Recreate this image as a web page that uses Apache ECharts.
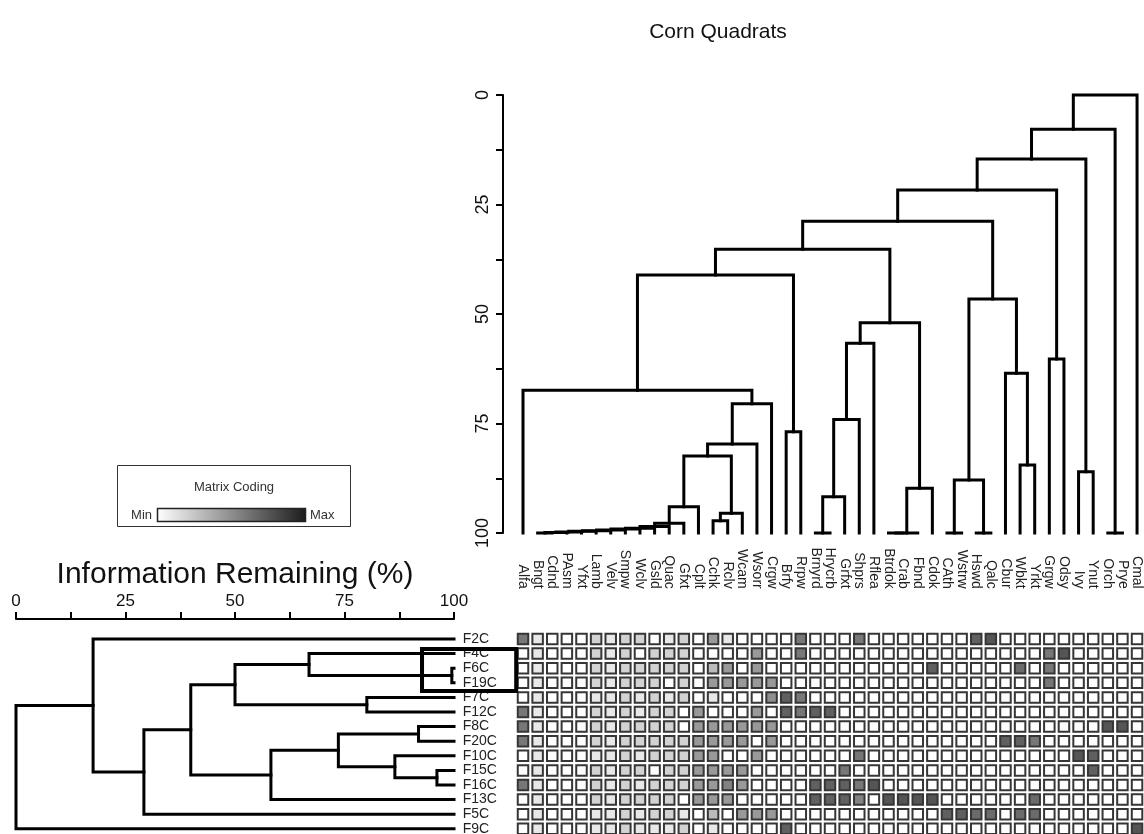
<!DOCTYPE html>
<html>
<head>
<meta charset="utf-8">
<script src="https://cdn.jsdelivr.net/npm/echarts@6/dist/echarts.min.js"></script>
<style>
  html, body { margin: 0; padding: 0; background: #ffffff; }
  #chart { width: 1144px; height: 834px; }
</style>
</head>
<body>
<div id="chart"></div>
<script>
// Species (columns), in dendrogram leaf order
const species = ['Alfa','Bngt','Cdnd','PAsm','Yfxt','Lamb','Velv','Smpw','Wclv','Gsld','Quac','Gfxt',
  'Cplt','Cchk','Rclv','Wcam','Wsorr','Crgw','Brfy','Rrpw','Brnyrd','Hrycrb','Grfxt','Shprs','Rflea',
  'Btrdok','Crab','Fbnd','Cdok','CAth','Wstrw','Hswd','Qalc','Cbur','Wbkt','Yrkt','Grgw','Odsy','Ivy',
  'Ynut','Orch','Prye','Cmal'];

// Quadrats (rows), in dendrogram leaf order
const plots = ['F2C','F4C','F6C','F19C','F7C','F12C','F8C','F20C','F10C','F15C','F16C','F13C','F5C','F9C'];

// Species clustering: [child A, child B, information remaining (%)]; 'mK' = K-th merge
const speciesMerges = [
  ['Bngt','Cdnd',100], ['m0','PAsm',99.9], ['m1','Yfxt',99.8], ['m2','Lamb',99.6],
  ['m3','Velv',99.5], ['m4','Smpw',99.3], ['m5','Wclv',99.1], ['m6','Gsld',98.9],
  ['m7','Quac',98.5], ['m8','Gfxt',97.8], ['m9','Cplt',94.0], ['Cchk','Rclv',97.2],
  ['m11','Wcam',95.5], ['m10','m12',82.4], ['m13','Wsorr',79.7], ['m14','Crgw',70.5],
  ['Alfa','m15',67.4], ['Brfy','Rrpw',76.9], ['m16','m17',41.1], ['Brnyrd','Hrycrb',100],
  ['m19','Grfxt',91.7], ['m20','Shprs',74.1], ['m21','Rflea',56.7], ['Btrdok','Crab',100],
  ['m23','Fbnd',100], ['m24','Cdok',89.8], ['m22','m25',52.0], ['m18','m26',35.2],
  ['CAth','Wstrw',100], ['Hswd','Qalc',100], ['m28','m29',87.9], ['Wbkt','Yrkt',84.5],
  ['Cbur','m31',63.5], ['m30','m32',46.6], ['m27','m33',28.8], ['Grgw','Odsy',60.3],
  ['m34','m35',21.7], ['Ivy','Ynut',86.0], ['m36','m37',14.6], ['Orch','Prye',100],
  ['m38','m39',7.8], ['m40','Cmal',0]
];

// Quadrat clustering: [child A, child B, information remaining (%)]
const plotMerges = [
  ['F6C','F19C',99.5], ['F4C','m0',66.9], ['F7C','F12C',80.1], ['m1','m2',50.0],
  ['F8C','F20C',91.9], ['F15C','F16C',96.1], ['F10C','m5',86.5], ['m4','m6',73.6],
  ['m7','F13C',58.2], ['m3','m8',39.9], ['m9','F5C',29.2], ['F2C','m10',17.6],
  ['m11','F9C',0]
];

// Relative abundance coding (0 = absent ... 10 = max), one row per quadrat
const coding = [
  /* F2C  */ [6,1,0,0,0,2,1,2,2,0,1,2,0,4.5, 1,0,0,0,0,6,0,0,0,6,0,0,0,0,0, 0,0,7,7.5,0,0,0,0,0,0,0,0,0,0],
  /* F4C  */ [0,1,0,0,0,2,1,2,0,2,2,2,0,0, 0,0,4.5,0,0,6,0,0,0,0,0,0,0,0,0, 0,0,0,0,0,0,0,6,7.5,0,0,0,0,0],
  /* F6C  */ [0,1,0,0,0,2,1,2,2,2,2,2,0,3, 4.5,0,4.5,0,0,0,0,0,0,0,0,0,0,0,7, 0,0,0,0,0,6.5,0,6,0,0,0,0,0,0],
  /* F19C */ [0,1,0,0,0,2,1,2,2,2,0,2,0,4.5, 4.5,4.5,4.5,4.5,0,0,0,0,0,0,0,0,0,0,0, 0,0,0,0,0,0,0,6,0,0,0,0,0,0],
  /* F7C  */ [0,1,0,0,0,1,1,2,1,2,1,2,0,1, 0,0,0,5,7,6,0,0,0,0,0,0,0,0,0, 0,0,0,0,0,0,0,0,0,0,0,0,0,0],
  /* F12C */ [6,1,0,0,0,2,1,2,1,2,2,0,4.5,0, 0,0,4.5,0,7,6,7,7,0,0,0,0,0,0,0, 0,0,0,0,0,0,0,0,0,0,0,0,0,0],
  /* F8C  */ [6,1,0,0,0,2,1,2,2,2,2,0,4.5,4.5, 4.5,4.5,4.5,4.5,0,0,0,0,0,0,0,0,0,0,0, 0,0,0,0,0,0,0,0,0,0,0,7.5,7.5,0],
  /* F20C */ [6,1,0,0,0,2,1,2,2,2,2,2,4.5,4.5, 4.5,4.5,0,4.5,0,0,0,0,0,0,0,0,0,0,0, 0,0,0,0,7,7,6,0,0,0,0,0,0,0],
  /* F10C */ [0,1,0,0,0,1,1,2,1,2,2,2,4.5,4.5, 0,0,4.5,0,0,0,0,0,0,6,0,0,0,0,0, 0,0,0,0,0,0,0,0,0,7.5,7,0,0,0],
  /* F15C */ [0,1,0,0,0,2,1,2,2,0,2,2,4.5,4.5, 4.5,4.5,0,0,0,0,0,0,6,0,0,0,0,0,0, 0,0,0,0,0,0,0,0,0,0,7,0,0,0],
  /* F16C */ [6,1,0,0,0,2,1,2,1,2,2,2,4.5,4.5, 5.5,4.5,0,0,0,0,7,7,7,6,7.5,0,0,0,0, 0,0,0,0,0,0,0,0,0,0,0,0,0,0],
  /* F13C */ [0,1,0,0,0,2,1,2,2,2,2,0,4.5,4.5, 4.5,0,0,0,0,0,7,7,7,5.5,0,7.5,7.5,7.5,7.5, 0,0,0,0,0,0,6.5,0,0,0,0,0,0,0],
  /* F5C  */ [0,1,0,0,0,1,1,2,1,2,2,1,0,3, 0,4.5,4.5,4.5,0,0,0,0,0,0,0,0,0,0,0, 7,7,6.5,6.5,0,6.5,6.5,0,0,0,0,0,0,0],
  /* F9C  */ [0,1,0,0,0,1,1,2,1,1,1,2,0,1, 0,0,0,0,7,0,0,0,0,0,0,0,0,0,0, 0,0,0,0,0,0,0,0,0,0,0,0,0,7.5]
];

const scaleTicks = [0, 25, 50, 75, 100];
const codingColors = ['#ffffff', '#1c1c1c'];

const FONT = "'Liberation Sans', Arial, Helvetica, sans-serif";
const INK = '#111111';

// Turn a merge list into bracket polylines: [leafPosition, level] pairs
function dendroSegments(leaves, merges, leafLevel) {
  const nodes = {};
  leaves.forEach((name, i) => { nodes[name] = { pos: i, level: leafLevel }; });
  const segs = [];
  merges.forEach(([a, b, level], k) => {
    const na = nodes[a], nb = nodes[b];
    segs.push([[na.pos, na.level], [na.pos, level], [nb.pos, level], [nb.pos, nb.level]]);
    nodes['m' + k] = { pos: (na.pos + nb.pos) / 2, level: level };
  });
  return segs;
}

const topSegs = dendroSegments(species, speciesMerges, 100).map(s => ({ coords: s }));
const sideSegs = dendroSegments(plots, plotMerges, 100)
  .map(s => ({ coords: s.map(([pos, lvl]) => [lvl, pos]) }));

const cells = [];
coding.forEach((row, r) => row.forEach((v, c) => cells.push([c, r, v])));

const scaleLabel = v => (scaleTicks.indexOf(v) >= 0 ? String(v) : '');

const chart = echarts.init(document.getElementById('chart'), null, { renderer: 'canvas' });

// layout: column/row pitch of the coded matrix and gaps between each scale and its plot area
const colW = 14.62, rowH = 14.6;
const matLeft = 515.7, matTop = 631.7;
const matWidth = colW * species.length, matHeight = rowH * plots.length;
const topAxisLeft = 503;     // species dendrogram scale sits left of the first leaf
const sideAxisTop = 619;     // quadrat dendrogram scale sits above the first row
const topXMin = -0.5 - (matLeft - topAxisLeft) / colW;
const sideYMin = -0.5 - (matTop - sideAxisTop) / rowH;

const scaleLine = { show: true, onZero: false, lineStyle: { color: '#000', width: 2 } };
const scaleTick = { show: true, inside: false, length: 7, lineStyle: { color: '#000', width: 2 } };

chart.setOption({
  animation: false,
  backgroundColor: '#ffffff',
  textStyle: { fontFamily: FONT },
  grid: [
    { left: topAxisLeft, top: 95, width: matLeft + matWidth - topAxisLeft, height: 438, outerBoundsMode: 'none' },
    { left: matLeft, top: matTop, width: matWidth, height: matHeight, outerBoundsMode: 'none' },
    { left: 16, top: sideAxisTop, width: 438, height: matTop + matHeight - sideAxisTop, outerBoundsMode: 'none' }
  ],
  xAxis: [
    { gridIndex: 0, type: 'value', min: topXMin, max: species.length - 0.5, show: false },
    {
      gridIndex: 1, type: 'category', data: species, position: 'top',
      axisLine: { show: false }, axisTick: { show: false }, splitLine: { show: false },
      axisLabel: { interval: 0, rotate: 90, margin: 43, fontSize: 14, color: '#222', fontFamily: FONT }
    },
    {
      gridIndex: 2, type: 'value', min: 0, max: 100, interval: 12.5, position: 'top',
      axisLine: scaleLine, axisTick: scaleTick, splitLine: { show: false },
      axisLabel: { formatter: scaleLabel, fontSize: 17, color: INK, margin: 9, fontFamily: FONT },
      name: 'Information Remaining (%)', nameLocation: 'middle', nameGap: 29,
      nameTextStyle: { fontSize: 30, color: INK, fontFamily: FONT }
    }
  ],
  yAxis: [
    {
      gridIndex: 0, type: 'value', min: 0, max: 100, interval: 12.5, inverse: true,
      axisLine: scaleLine, axisTick: scaleTick, splitLine: { show: false },
      axisLabel: { formatter: scaleLabel, rotate: 90, fontSize: 18, color: INK, margin: 11, fontFamily: FONT }
    },
    {
      gridIndex: 1, type: 'category', data: plots, inverse: true,
      axisLine: { show: false }, axisTick: { show: false }, splitLine: { show: false },
      axisLabel: { interval: 0, align: 'left', margin: 53, fontSize: 14, color: '#222', fontFamily: FONT }
    },
    { gridIndex: 2, type: 'value', min: sideYMin, max: plots.length - 0.5, inverse: true, show: false }
  ],
  visualMap: {
    type: 'continuous', show: false, min: 0, max: 10, dimension: 2, seriesIndex: 1,
    inRange: { color: codingColors }
  },
  series: [
    {
      type: 'lines', coordinateSystem: 'cartesian2d', xAxisIndex: 0, yAxisIndex: 0,
      polyline: true, clip: false, silent: true, data: topSegs,
      lineStyle: { color: '#000', width: 3, opacity: 1, cap: 'square', join: 'miter' }
    },
    {
      type: 'scatter', xAxisIndex: 1, yAxisIndex: 1, data: cells,
      symbol: 'rect', symbolSize: 10.5, silent: true,
      itemStyle: { borderColor: '#363636', borderWidth: 2, opacity: 1 }
    },
    {
      type: 'lines', coordinateSystem: 'cartesian2d', xAxisIndex: 2, yAxisIndex: 2,
      polyline: true, clip: false, silent: true, data: sideSegs,
      lineStyle: { color: '#000', width: 3, opacity: 1, cap: 'square', join: 'miter' }
    }
  ],
  graphic: [
    {
      id: 'title', type: 'text', x: 718, y: 32,
      style: { text: 'Corn Quadrats', font: '21px ' + FONT, fill: INK, align: 'center', verticalAlign: 'middle' }
    },
    {
      id: 'legendBox', type: 'rect', shape: { x: 117.5, y: 465.5, width: 233, height: 61 },
      style: { fill: '#ffffff', stroke: '#333', lineWidth: 1 }
    },
    {
      id: 'legendTitle', type: 'text', x: 234, y: 487,
      style: { text: 'Matrix Coding', font: '13px ' + FONT, fill: '#333', align: 'center', verticalAlign: 'middle' }
    },
    {
      id: 'legendBar', type: 'rect', shape: { x: 157.5, y: 508.5, width: 148, height: 13 },
      style: {
        fill: new echarts.graphic.LinearGradient(0, 0, 1, 0, [
          { offset: 0, color: codingColors[0] }, { offset: 1, color: codingColors[1] }
        ]),
        stroke: '#222', lineWidth: 1.5
      }
    },
    {
      id: 'legendMin', type: 'text', x: 152, y: 515,
      style: { text: 'Min', font: '13px ' + FONT, fill: '#333', align: 'right', verticalAlign: 'middle' }
    },
    {
      id: 'legendMax', type: 'text', x: 310, y: 515,
      style: { text: 'Max', font: '13px ' + FONT, fill: '#333', align: 'left', verticalAlign: 'middle' }
    }
  ]
});

// Frame around the F4C-F19C group, placed through the quadrat dendrogram's scales
const tl = chart.convertToPixel({ xAxisIndex: 2, yAxisIndex: 2 }, [92.7, 0.68]);
const br = chart.convertToPixel({ xAxisIndex: 2, yAxisIndex: 2 }, [100, 3.56]);
const frameRight = chart.convertToPixel({ xAxisIndex: 1, yAxisIndex: 1 }, [0, 0])[0] - colW / 2 + 0.5;
chart.setOption({
  graphic: [{
    id: 'groupFrame', type: 'rect', z: 100,
    shape: { x: tl[0], y: tl[1], width: frameRight - tl[0], height: br[1] - tl[1] },
    style: { fill: 'none', stroke: '#000', lineWidth: 4 }
  }]
});
</script>
</body>
</html>
